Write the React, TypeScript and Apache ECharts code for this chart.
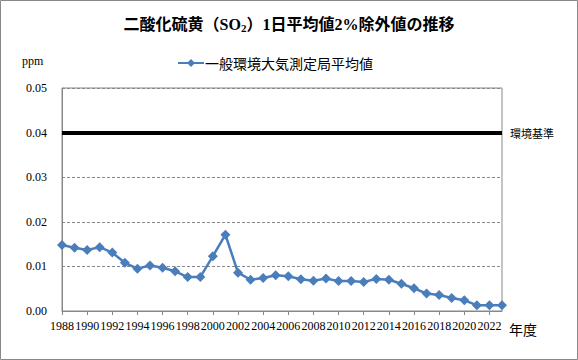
import React, { useEffect, useRef } from "react";
import * as echarts from "echarts";

const years = [
  "1988", "1989", "1990", "1991", "1992", "1993", "1994", "1995", "1996", "1997",
  "1998", "1999", "2000", "2001", "2002", "2003", "2004", "2005", "2006", "2007",
  "2008", "2009", "2010", "2011", "2012", "2013", "2014", "2015", "2016", "2017",
  "2018", "2019", "2020", "2021", "2022", "2023",
];
const averageValues = [
  0.0148, 0.0142, 0.0137, 0.0143, 0.0131, 0.0108, 0.0095, 0.0102, 0.0097, 0.0089,
  0.0076, 0.0076, 0.0123, 0.0171, 0.0086, 0.0070, 0.0074, 0.0080, 0.0078, 0.0071,
  0.0068, 0.0073, 0.0067, 0.0067, 0.0065, 0.0072, 0.0070, 0.0061, 0.0051, 0.0039,
  0.0036, 0.0029, 0.0024, 0.0013, 0.0013, 0.0013,
];
const standardValue = 0.04;
const seriesName = "一般環境大気測定局平均値";
const standardLabel = "環境基準";

const serif = "'Liberation Serif', 'Noto Sans CJK JP', serif";
const sans = "'Noto Sans CJK JP', sans-serif";

export default function App() {
  const ref = useRef<HTMLDivElement>(null);
  useEffect(() => {
    document.body.style.margin = "0";
    const chart = echarts.init(ref.current!, null, { renderer: "svg" });
    chart.setOption({
      animation: false,
      backgroundColor: "#fff",
      title: {
        text: "二酸化硫黄（SO{sub|2}）1日平均値2%除外値の推移",
        left: "center",
        top: 10,
        textStyle: {
          fontFamily: serif,
          fontSize: 16,
          fontWeight: "bold",
          color: "#000",
          rich: {
            sub: { fontFamily: serif, fontSize: 11, fontWeight: "bold", color: "#000", padding: [8, 0, 0, 0] },
          },
        },
      },
      legend: {
        top: 51,
        left: 172,
        itemWidth: 26,
        itemHeight: 10,
        itemGap: 4,
        textStyle: { fontFamily: sans, fontSize: 14, color: "#000", padding: [0, 0, 0, -4] },
        data: [seriesName],
      },
      grid: {
        left: 62,
        right: 76,
        top: 88,
        bottom: 49,
        show: true,
        borderColor: "#888",
        borderWidth: 1,
      },
      xAxis: {
        type: "category",
        data: years,
        boundaryGap: false,
        axisLine: { lineStyle: { color: "#888" } },
        axisTick: { show: true, interval: 1, length: 4, lineStyle: { color: "#888" } },
        axisLabel: { interval: 1, margin: 9, fontFamily: serif, fontSize: 12, color: "#000" },
        splitLine: { show: false },
      },
      yAxis: {
        type: "value",
        min: 0,
        max: 0.05,
        interval: 0.01,
        axisLine: { show: true, lineStyle: { color: "#888" } },
        axisTick: { show: true, inside: true, length: 3, lineStyle: { color: "#888" } },
        axisLabel: {
          margin: 15,
          fontFamily: serif,
          fontSize: 12,
          color: "#000",
          formatter: (v: number) => v.toFixed(2),
        },
        splitLine: { show: true, lineStyle: { color: "#888", type: [3, 2], width: 1 } },
      },
      series: [
        {
          name: seriesName,
          type: "line",
          data: averageValues,
          symbol: "diamond",
          symbolSize: 10,
          showAllSymbol: true,
          color: "#4a7ebb",
          lineStyle: { width: 2.5, color: "#4a7ebb" },
          itemStyle: { color: "#4a7ebb" },
          markLine: {
            silent: true,
            symbol: "none",
            lineStyle: { color: "#000", width: 4, type: "solid" },
            label: {
              show: true,
              position: "end",
              distance: 8,
              formatter: standardLabel,
              fontFamily: sans,
              fontSize: 11,
              color: "#000",
            },
            data: [{ yAxis: standardValue }],
          },
          z: 3,
        },
      ],
      graphic: [
        {
          type: "rect",
          shape: { x: 0.5, y: 0.5, width: 577, height: 359 },
          style: { fill: "none", stroke: "#888", lineWidth: 1 },
          silent: true,
        },
        {
          type: "text",
          x: 22,
          y: 55,
          style: { text: "ppm", fontFamily: serif, fontSize: 12, fill: "#000" },
        },
        {
          type: "text",
          x: 509,
          y: 322,
          style: { text: "年度", fontFamily: sans, fontSize: 14, fill: "#000" },
        },
      ],
    });
    return () => chart.dispose();
  }, []);
  return (
    <div
      ref={ref}
      style={{ position: "absolute", left: 0, top: 0, width: 578, height: 360 }}
    />
  );
}
